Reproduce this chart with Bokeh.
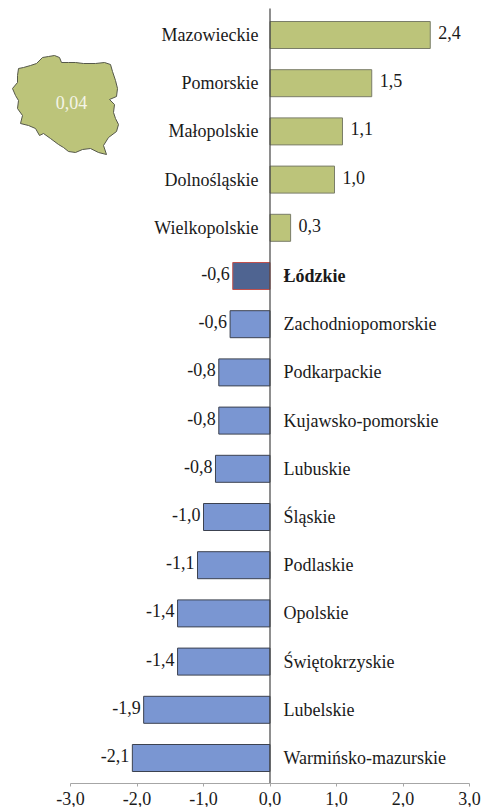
from bokeh.plotting import figure
from bokeh.models import Range1d, FixedTicker, ColumnDataSource
from bokeh.core.properties import value
from bokeh.embed import file_html
from bokeh.resources import INLINE

regions = ["Mazowieckie", "Pomorskie", "Małopolskie", "Dolnośląskie", "Wielkopolskie", "Łódzkie",
           "Zachodniopomorskie", "Podkarpackie", "Kujawsko-pomorskie", "Lubuskie", "Śląskie",
           "Podlaskie", "Opolskie", "Świętokrzyskie", "Lubelskie", "Warmińsko-mazurskie"]
values = [2.41, 1.53, 1.09, 0.97, 0.31, -0.56, -0.60, -0.77, -0.77, -0.82, -1.00, -1.09, -1.39, -1.39, -1.90, -2.07]
ticks = [-3, -2, -1, 0, 1, 2, 3]
tick_labels = ["-3,0", "-2,0", "-1,0", "0,0", "1,0", "2,0", "3,0"]
national_label = "0,04"

# Outline of Poland (screen pixels)
map_px = [18, 23, 30, 36, 42, 48, 54, 59, 61, 68, 75, 83, 95, 104, 110, 112, 115, 117, 116, 109, 114, 113, 115, 118, 116, 108, 103, 106, 98, 90, 82, 75, 68, 63, 58, 50, 43, 39, 35, 28, 20, 22, 17, 18, 15, 12, 17, 17]
map_py = [68, 67, 65, 63, 57, 56, 55, 57, 62, 62, 62, 63, 63, 62, 64, 71, 80, 88, 96, 99, 104, 112, 118, 124, 131, 137, 145, 154, 152, 148, 149, 152, 151, 147, 144, 138, 133, 135, 128, 125, 123, 115, 108, 100, 95, 88, 82, 75]

GREEN, GREEN_EDGE = "#bcc47a", "#7a7d68"
BLUE, BLUE_EDGE = "#7a96d2", "#3c4250"
DARK, DARK_EDGE = "#4f6491", "#c0504d"
FONT = "Liberation Serif"
FS = "18px"

PX_PER_UNIT = 66.5
X0_PX = 269.5
ROW_PX = 48.2
ROW0_PX = 34.5
FRAME_L, FRAME_R, FRAME_T, FRAME_B = 0, 486, 0, 783
AXIS_TOP = 8

def sx(px):
    return (px - X0_PX) / PX_PER_UNIT

def sy(py):
    return (py - ROW0_PX) / ROW_PX

rows = list(range(len(regions)))
fills = [DARK if r == "Łódzkie" else (GREEN if v > 0 else BLUE) for r, v in zip(regions, values)]
edges = [DARK_EDGE if r == "Łódzkie" else (GREEN_EDGE if v > 0 else BLUE_EDGE) for r, v in zip(regions, values)]
src = ColumnDataSource(dict(y=rows, v=values, fill=fills, edge=edges, zero=[0] * len(rows)))

p = figure(width=486, height=809, output_backend="svg", toolbar_location=None,
           x_range=Range1d(sx(FRAME_L), sx(FRAME_R)), y_range=Range1d(sy(FRAME_B), sy(FRAME_T)),
           y_axis_location=None, min_border=0, frame_height=FRAME_B - FRAME_T, frame_width=FRAME_R - FRAME_L)
p.outline_line_color = None
p.grid.visible = False
p.background_fill_color = "white"

p.hbar(y="y", left="zero", right="v", height=27 / ROW_PX, fill_color="fill", line_color="edge", line_width=1, source=src)
p.segment(x0=[0], x1=[0], y0=[sy(AXIS_TOP)], y1=[sy(FRAME_B)], line_color="#444444", line_width=1.2)

# Poland inset
p.patch([sx(x) for x in map_px], [sy(y) for y in map_py], fill_color=GREEN, line_color="#55584a", line_width=1)
p.text([sx(71)], [sy(102)], text=[national_label], text_color="#f4f4e8", text_font=value(FONT), text_font_size=FS,
       text_align="center", text_baseline="middle")

# Region names: on the opposite side of the bar
for idx, (r, v) in enumerate(zip(regions, values)):
    bold = r == "Łódzkie"
    p.text([0], [idx], text=[r], x_offset=[-11.5 if v > 0 else 13.5], text_align="right" if v > 0 else "left",
           text_baseline="middle", text_font=value(FONT), text_font_size=FS, text_color="#1a1a1a",
           text_font_style="bold" if bold else "normal")
    p.text([v], [idx], text=[f"{v:.1f}".replace(".", ",")], x_offset=[8 if v > 0 else -3], y_offset=[-2.5],
           text_align="left" if v > 0 else "right", text_baseline="middle", text_font=value(FONT),
           text_font_size=FS, text_color="#1a1a1a")

ax = p.xaxis[0]
ax.bounds = (ticks[0], ticks[-1])
ax.ticker = FixedTicker(ticks=ticks)
ax.major_label_overrides = dict(zip(ticks, tick_labels))
ax.axis_line_color = "#a6a6a6"
ax.major_tick_line_color = "#a6a6a6"
ax.major_tick_in = 0
ax.major_tick_out = 3
ax.minor_tick_line_color = None
ax.major_label_standoff = 5
ax.major_label_text_font = FONT
ax.major_label_text_font_size = FS
ax.major_label_text_color = "#1a1a1a"

open("out.html", "w").write(file_html(p, INLINE))
